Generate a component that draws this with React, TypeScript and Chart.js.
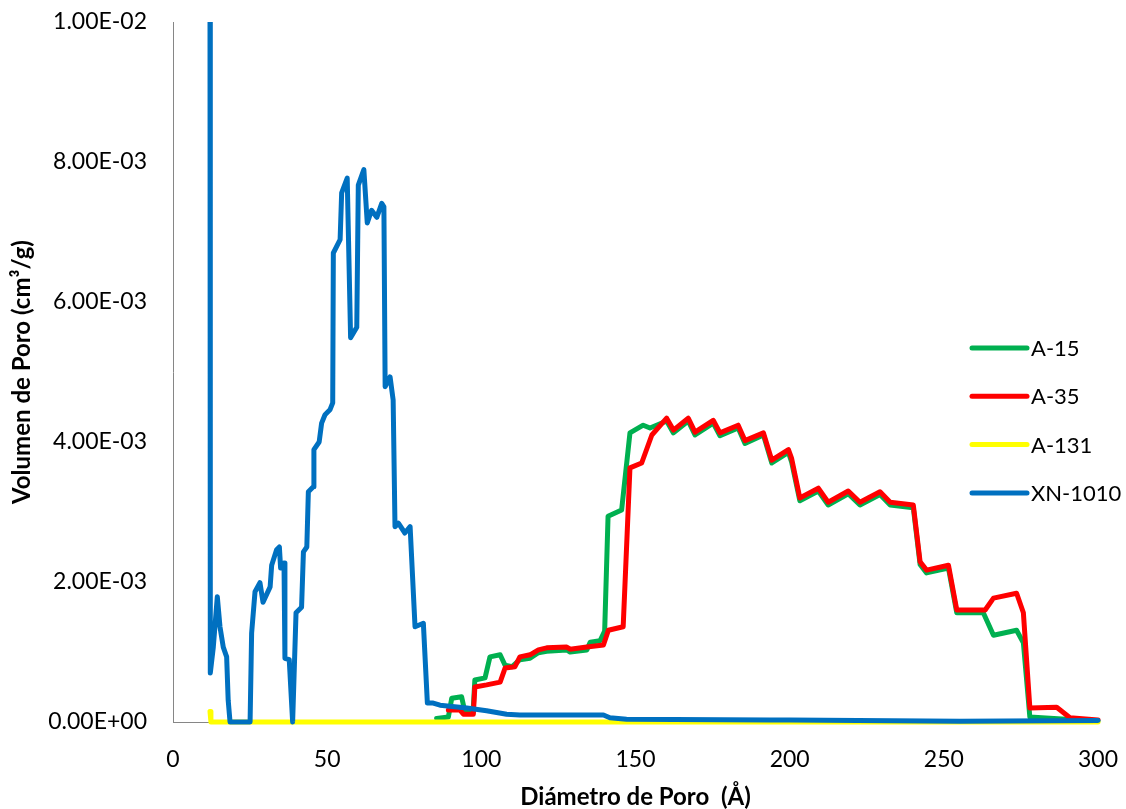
import React, { useEffect, useRef } from "react";
import { Chart, registerables } from "chart.js";

Chart.register(...registerables);

const seriesNames = ["A-15", "A-35", "A-131", "XN-1010"];
const seriesColors = ["#00B050", "#FF0000", "#FFFF00", "#0070C0"];

const xTicks = [0, 50, 100, 150, 200, 250, 300];
const yTicks = [0, 0.002, 0.004, 0.006, 0.008, 0.01];

const a15X = [85.5, 89.3, 90.4, 93.6, 94.7, 97.3, 97.9, 101.2, 102.8, 106.1, 107.7, 110.0, 112.5, 115.8, 118.5, 121.2, 127.7, 128.8, 134.2, 135.3, 138.5, 140.0, 141.1, 145.5, 148.2, 152.5, 154.7, 160.1, 162.3, 167.1, 169.3, 175.2, 177.4, 183.3, 185.5, 191.5, 194.2, 199.6, 200.6, 203.3, 209.3, 212.5, 219.0, 222.8, 229.3, 232.6, 240.1, 242.3, 244.4, 251.5, 254.2, 262.8, 266.1, 273.6, 275.8, 277.9, 300];
const a15Y = [0.00005, 0.00007, 0.00034, 0.00036, 0.00014, 0.00013, 0.0006, 0.00063, 0.00093, 0.00096, 0.00081, 0.00079, 0.00089, 0.00091, 0.00099, 0.00101, 0.00103, 0.001, 0.00103, 0.00114, 0.00116, 0.0013, 0.00294, 0.00303, 0.00413, 0.00424, 0.0042, 0.0043, 0.00413, 0.0043, 0.0041, 0.00427, 0.00409, 0.0042, 0.00398, 0.0041, 0.0037, 0.00385, 0.00372, 0.00316, 0.0033, 0.0031, 0.00326, 0.0031, 0.00325, 0.0031, 0.00306, 0.00225, 0.00213, 0.0022, 0.00156, 0.00156, 0.00124, 0.00131, 0.00113, 0.00007, 0.00001];

const a35X = [89.3, 93.1, 94.2, 97.4, 97.9, 101.7, 106.1, 107.7, 110.9, 112.5, 115.8, 118.5, 121.2, 127.7, 128.8, 134.2, 139.6, 141.2, 146.0, 148.2, 152.0, 155.3, 160.1, 162.3, 167.1, 169.3, 175.2, 177.4, 183.3, 185.5, 191.5, 194.2, 199.6, 200.6, 203.3, 209.3, 212.5, 219.0, 222.8, 229.3, 232.6, 240.1, 242.3, 244.4, 251.5, 254.2, 263.4, 266.1, 273.6, 275.8, 277.9, 286.6, 290.9, 300];
const a35Y = [0.00017, 0.00017, 0.00011, 0.00011, 0.0005, 0.00053, 0.00057, 0.00077, 0.00079, 0.00093, 0.00096, 0.00103, 0.00106, 0.00107, 0.00104, 0.00107, 0.0011, 0.00131, 0.00136, 0.00363, 0.0037, 0.0041, 0.00434, 0.00417, 0.00434, 0.00414, 0.00431, 0.00413, 0.00424, 0.00402, 0.00413, 0.00374, 0.00389, 0.00377, 0.0032, 0.00334, 0.00314, 0.0033, 0.00314, 0.00329, 0.00314, 0.0031, 0.00229, 0.00217, 0.00224, 0.0016, 0.0016, 0.00177, 0.00184, 0.00156, 0.0002, 0.00021, 0.00006, 0.00003];

const a131X = [12.0, 12.3, 300];
const a131Y = [0.00015, 0.0, 0.0];

const xn1010X = [12.0, 12.1, 13.07, 14.37, 15.24, 16.3, 17.4, 17.9, 18.5, 25.0, 25.5, 26.6, 28.2, 29.2, 31.5, 32.0, 33.6, 34.5, 34.9, 36.0, 36.3, 37.7, 38.8, 39.9, 41.7, 42.3, 43.4, 43.9, 45.5, 45.7, 47.4, 48.2, 49.3, 50.9, 51.8, 52.0, 54.2, 54.7, 56.5, 57.6, 59.6, 60.1, 61.9, 63.0, 64.4, 66.1, 67.7, 68.4, 68.8, 70.4, 71.4, 72.0, 73.1, 75.2, 76.9, 78.5, 81.2, 82.5, 84.4, 86.6, 95.3, 101.7, 108.2, 112.5, 139.6, 141.7, 147.1, 193.6, 200.0, 255.2, 300];
const xn1010Y = [0.0102, 0.0007, 0.00107, 0.00179, 0.00136, 0.00107, 0.00093, 0.00031, 0.0, 0.0, 0.00127, 0.00186, 0.00199, 0.00171, 0.00193, 0.00224, 0.00246, 0.0025, 0.0022, 0.00227, 0.00091, 0.00089, 0.0, 0.00156, 0.00164, 0.00243, 0.0025, 0.00329, 0.00336, 0.00389, 0.004, 0.00427, 0.00439, 0.00446, 0.00456, 0.0067, 0.00689, 0.00756, 0.00777, 0.00549, 0.00564, 0.00767, 0.00789, 0.00713, 0.00731, 0.00721, 0.00741, 0.00736, 0.00479, 0.00493, 0.0046, 0.00279, 0.00284, 0.0027, 0.00279, 0.00136, 0.00141, 0.00027, 0.00027, 0.00024, 0.0002, 0.00016, 0.00011, 0.0001, 0.0001, 0.00006, 0.00004, 0.00003, 0.00003, 0.00001, 0.00002];

const FONT = "Lato, Carlito, Calibri, 'Noto Sans', sans-serif";

const toPoints = (xs: number[], ys: number[]) => xs.map((x, i) => ({ x, y: ys[i] }));

const fmtExp = (v: number) => {
  const [m, e] = Number(v).toExponential(2).split("e");
  const sign = e.startsWith("-") ? "-" : "+";
  const digits = e.replace(/[+-]/, "").padStart(2, "0");
  return `${m}E${sign}${digits}`;
};

const zeroPadding = (scale: any) => {
  scale.paddingTop = 0;
  scale.paddingBottom = 0;
  scale.paddingLeft = 0;
  scale.paddingRight = 0;
};

const legendPlugin = {
  id: "customLegend",
  afterDraw(chart: any) {
    const { ctx, chartArea } = chart;
    ctx.save();
    const x0 = chartArea.right - 126;
    const x1 = chartArea.right - 71;
    const tx = chartArea.right - 67;
    const y0 = chartArea.top + 326;
    const step = 48.3;
    seriesNames.forEach((name, i) => {
      const y = y0 + i * step;
      ctx.strokeStyle = seriesColors[i];
      ctx.lineWidth = 5;
      ctx.lineCap = "round";
      ctx.beginPath();
      ctx.moveTo(x0, y);
      ctx.lineTo(x1, y);
      ctx.stroke();
      ctx.fillStyle = "#000000";
      ctx.font = `22px ${FONT}`;
      ctx.textBaseline = "middle";
      ctx.textAlign = "left";
      ctx.fillText(name, tx, y + 1);
    });
    ctx.restore();
  },
};

export default function App() {
  const canvasRef = useRef<HTMLCanvasElement | null>(null);

  useEffect(() => {
    document.body.style.margin = "0";
    const canvas = canvasRef.current;
    if (!canvas) return;
    const seriesData = [
      toPoints(a15X, a15Y),
      toPoints(a35X, a35Y),
      toPoints(a131X, a131Y),
      toPoints(xn1010X, xn1010Y),
    ];
    const chart = new Chart(canvas, {
      type: "line",
      data: {
        datasets: seriesNames.map((name, i) => ({
          label: name,
          data: seriesData[i],
          borderColor: seriesColors[i],
          backgroundColor: seriesColors[i],
          borderWidth: 5,
          pointRadius: 0,
          tension: 0,
          fill: false,
          borderJoinStyle: "round" as const,
          borderCapStyle: "round" as const,
          order: 4 - i,
          clip: { left: 5, top: 0, right: 5, bottom: 5 },
        })),
      },
      options: {
        responsive: false,
        animation: false,
        devicePixelRatio: 1,
        layout: { padding: { top: 22, right: 28, left: 0, bottom: 0 } },
        plugins: {
          legend: { display: false },
          tooltip: { enabled: false },
        },
        scales: {
          x: {
            type: "linear",
            min: 0,
            max: 300,
            afterBuildTicks: (scale: any) => {
              scale.ticks = xTicks.map((v) => ({ value: v }));
            },
            afterFit: (scale: any) => {
              scale.height = 87;
              zeroPadding(scale);
            },
            grid: { display: false, drawTicks: false },
            border: { display: true, color: "#868686", width: 1 },
            ticks: {
              padding: 24,
              color: "#000000",
              font: { family: FONT, size: 23 },
              maxRotation: 0,
            },
            title: {
              display: true,
              text: "Diámetro de Poro  (Å)",
              color: "#000000",
              font: { family: FONT, size: 24, weight: "bold", lineHeight: 1 },
              padding: { top: 0, bottom: 0 },
            },
          },
          y: {
            type: "linear",
            min: 0,
            max: 0.01,
            afterBuildTicks: (scale: any) => {
              scale.ticks = yTicks.map((v) => ({ value: v }));
            },
            afterFit: (scale: any) => {
              scale.width = 173;
              zeroPadding(scale);
            },
            grid: { display: false, drawTicks: false },
            border: { display: true, color: "#868686", width: 1 },
            ticks: {
              padding: 26,
              color: "#000000",
              font: { family: FONT, size: 23 },
              callback: (v: any) => fmtExp(Number(v)),
            },
            title: {
              display: true,
              text: "Volumen de Poro (cm³/g)",
              color: "#000000",
              font: { family: FONT, size: 24, weight: "bold", lineHeight: 1 },
              padding: { top: 10, bottom: 0 },
            },
          },
        },
      },
      plugins: [legendPlugin],
    });
    return () => chart.destroy();
  }, []);

  return (
    <div style={{ width: 1126, height: 809, background: "#ffffff" }}>
      <canvas ref={canvasRef} width={1126} height={809} style={{ display: "block" }} />
    </div>
  );
}
